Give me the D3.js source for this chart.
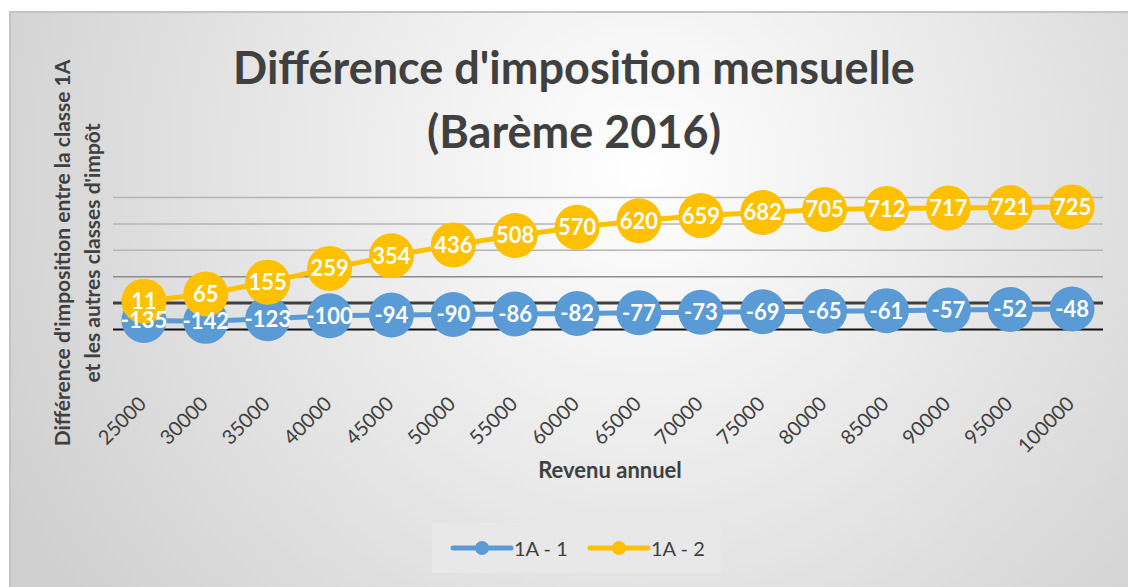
<!DOCTYPE html>
<html>
<head>
<meta charset="utf-8">
<script src="https://cdn.jsdelivr.net/npm/d3@7"></script>
<style>
    body { margin: 0; background: #fff; }
    svg { display: block; font-family: Lato, "Open Sans", sans-serif; }
</style>
</head>
<body>
<div class="chart-space"></div>
<script>
// revenu annuel (categories)
let categories = [25000, 30000, 35000, 40000, 45000, 50000, 55000, 60000,
    65000, 70000, 75000, 80000, 85000, 90000, 95000, 100000];
let serie1_name = "1A - 1";
let serie1 = [-135, -142, -123, -100, -94, -90, -86, -82, -77, -73, -69, -65, -61, -57, -52, -48];
let serie2_name = "1A - 2";
let serie2 = [11, 65, 155, 259, 354, 436, 508, 570, 620, 659, 682, 705, 712, 717, 721, 725];
let yTicks = [-200, 0, 200, 400, 600, 800];

let width = 1128;
let height = 587;
let plot = {left: 113, right: 1103, top: 197, bottom: 329};
let textColor = "#404040";

let svg = d3.select(".chart-space").append("svg")
    .attr("width", width)
    .attr("height", height);

// background gradient
let defs = svg.append("defs");
let grad = defs.append("radialGradient")
    .attr("id", "bg")
    .attr("gradientUnits", "userSpaceOnUse")
    .attr("cx", 640).attr("cy", 170).attr("r", 720);
grad.append("stop").attr("offset", "0%").attr("stop-color", "#ffffff");
grad.append("stop").attr("offset", "100%").attr("stop-color", "#cfcfcf");

svg.append("rect")
    .attr("x", 10).attr("y", 12)
    .attr("width", width).attr("height", height)
    .attr("fill", "url(#bg)")
    .attr("stroke", "#c4c4c4")
    .attr("stroke-width", 2);

let x = d3.scalePoint()
    .domain(categories)
    .range([plot.left, plot.right])
    .padding(0.5);

let y = d3.scaleLinear()
    .domain([yTicks[0], yTicks[yTicks.length - 1]])
    .range([plot.bottom, plot.top]);

// gridlines (no tick labels, like the original)
let grid = svg.append("g")
    .attr("transform", "translate(" + plot.left + ",0)")
    .call(d3.axisLeft(y).tickValues(yTicks).tickSize(-(plot.right - plot.left)).tickFormat(""));
grid.select(".domain").remove();
grid.selectAll(".tick line")
    .attr("stroke", function (d) {
        if (d === 0) return "#404040";
        if (d === yTicks[0]) return "#111";
        return d <= 200 ? "#8c8c8c" : "#b5b5b5";
    })
    .attr("stroke-width", function (d) {
        if (d === 0) return 3;
        if (d === yTicks[0]) return 2;
        return 1.5;
    });

// x axis labels
let xAxis = svg.append("g")
    .attr("transform", "translate(0,398)")
    .call(d3.axisBottom(x).tickSize(0).tickPadding(0));
xAxis.select(".domain").remove();
xAxis.selectAll(".tick text")
    .attr("fill", textColor)
    .style("font-size", "20px")
    .style("font-family", "Lato, sans-serif")
    .attr("text-anchor", "end")
    .attr("dy", 0)
    .attr("transform", "translate(3,7) rotate(-45)");

// lines
let line = d3.line()
    .x(function (d, i) { return x(categories[i]); })
    .y(function (d) { return y(d); });

let series = [
    {name: serie1_name, values: serie1, color: "#5B9BD5"},
    {name: serie2_name, values: serie2, color: "#FFC000"}
];

series.forEach(function (s) {
    svg.append("path")
        .datum(s.values)
        .attr("fill", "none")
        .attr("stroke", s.color)
        .attr("stroke-width", 5)
        .attr("stroke-linejoin", "round")
        .attr("d", line);
    svg.selectAll(null)
        .data(s.values)
        .enter()
        .append("circle")
        .attr("cx", function (d, i) { return x(categories[i]); })
        .attr("cy", function (d) { return y(d); })
        .attr("r", 22.5)
        .attr("fill", s.color);
});

// data labels on top of everything
series.forEach(function (s) {
    svg.selectAll(null)
        .data(s.values)
        .enter()
        .append("text")
        .attr("x", function (d, i) { return x(categories[i]); })
        .attr("y", function (d) { return y(d); })
        .attr("dy", "0.36em")
        .attr("text-anchor", "middle")
        .attr("fill", "#fff")
        .style("font-size", "22px")
        .style("font-weight", "bold")
        .text(function (d) { return d; });
});

// title
let title = svg.append("text")
    .attr("text-anchor", "middle")
    .attr("fill", textColor)
    .style("font-size", "45px")
    .style("font-weight", "bold");
title.append("tspan").attr("x", 574).attr("y", 84).text("Différence d'imposition mensuelle");
title.append("tspan").attr("x", 574).attr("y", 148).text("(Barème 2016)");

// y axis title
let yTitle = svg.append("text")
    .attr("transform", "rotate(-90)")
    .attr("text-anchor", "middle")
    .attr("fill", textColor)
    .style("font-size", "21px")
    .style("font-weight", "bold");
yTitle.append("tspan").attr("x", -253).attr("y", 70).text("Différence d'imposition entre la classe 1A");
yTitle.append("tspan").attr("x", -253).attr("y", 100).text("et les autres classes d'impôt");

// x axis title
svg.append("text")
    .attr("x", 610)
    .attr("y", 478)
    .attr("text-anchor", "middle")
    .attr("fill", textColor)
    .style("font-size", "22px")
    .style("font-weight", "bold")
    .text("Revenu annuel");

// legend
let legend = svg.append("g");
legend.append("rect")
    .attr("x", 432).attr("y", 523)
    .attr("width", 289).attr("height", 50)
    .attr("fill", "#e8e8e8");
let legendX = [453, 590];
series.forEach(function (s, i) {
    let lx = legendX[i];
    legend.append("line")
        .attr("x1", lx).attr("x2", lx + 58)
        .attr("y1", 548).attr("y2", 548)
        .attr("stroke", s.color)
        .attr("stroke-width", 5)
        .attr("stroke-linecap", "round");
    legend.append("circle")
        .attr("cx", lx + 29).attr("cy", 548).attr("r", 7)
        .attr("fill", s.color);
    legend.append("text")
        .attr("x", lx + 61).attr("y", 556)
        .attr("fill", textColor)
        .style("font-size", "20px")
        .text(s.name);
});
</script>
</body>
</html>
